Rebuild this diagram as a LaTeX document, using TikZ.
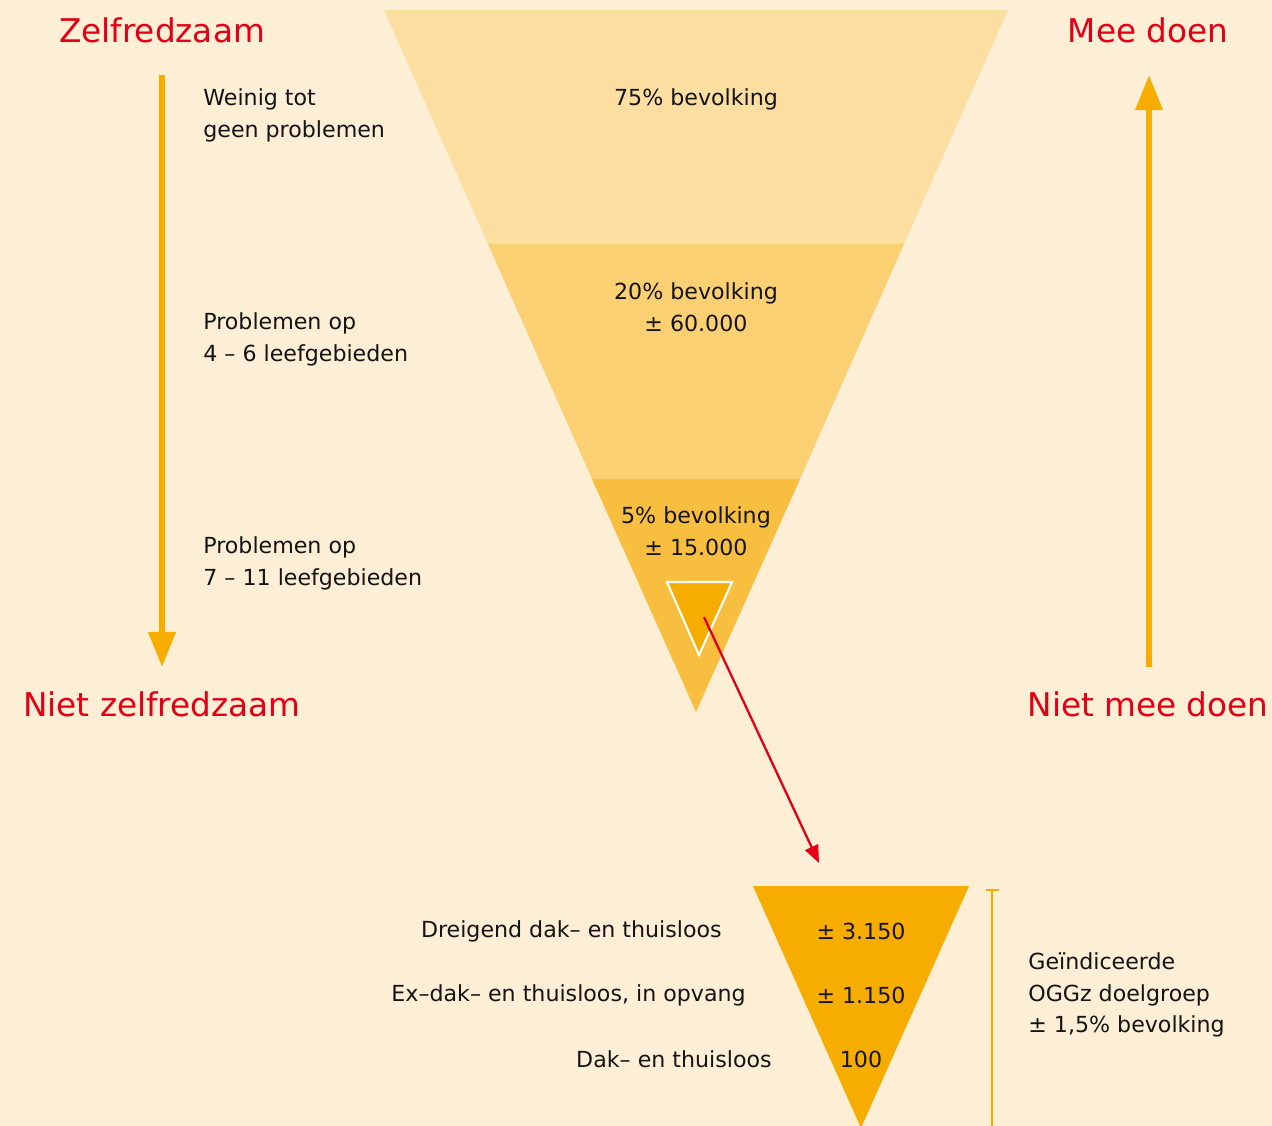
\documentclass[tikz,border=0pt]{standalone}
\usepackage{fontspec}
\setmainfont{DejaVu Sans}
\usetikzlibrary{arrows.meta,positioning}
\definecolor{achter}{RGB}{253,238,214}
\definecolor{laag1}{RGB}{252,222,160}
\definecolor{laag2}{RGB}{250,208,115}
\definecolor{laag3}{RGB}{248,190,64}
\definecolor{oranje}{RGB}{247,173,0}
\definecolor{rood}{RGB}{228,0,20}

\begin{document}
\begin{tikzpicture}[x=0.02cm,y=-0.02cm,
  tekst/.style={font=\fontsize{12.6}{18.1}\selectfont,text=black!92,inner sep=0pt},
  kop/.style={font=\fontsize{18.6}{22}\selectfont,text=rood,inner sep=0pt},
  pijl/.style={oranje,line width=3.4pt,-{Triangle[length=20pt,width=15pt]}}]
  \fill[achter] (0,0) rectangle (1272,1126);
  \useasboundingbox (0,0) rectangle (1272,1126);
  % grote trechter
  \coordinate (A) at (384,10); \coordinate (B) at (1008,10);
  \coordinate (C) at (904,244); \coordinate (D) at (488,244);
  \coordinate (E) at (800,479); \coordinate (F) at (592,479);
  \coordinate (T) at (696,712);
  \fill[laag1] (A)--(B)--(C)--(D)--cycle;
  \fill[laag2] (D)--(C)--(E)--(F)--cycle;
  \fill[laag3] (F)--(E)--(T)--cycle;
  \fill[oranje,draw=white,line width=1.2pt] (667,582)--(732,582)--(699,655)--cycle;
  % kleine trechter
  \fill[oranje] (753,886)--(969,886)--(861,1128)--cycle;
  \coordinate (P) at (704,617); \coordinate (Q) at (819,863);
  \draw[rood,line width=1.3pt,-{Triangle[length=10pt,width=8pt]}] (P)--(Q);
  % pijlen
  \coordinate (L1) at (162,75); \coordinate (L2) at (162,667);
  \coordinate (R1) at (1149,667); \coordinate (R2) at (1149,75);
  \draw[pijl] (L1)--(L2);
  \draw[pijl] (R1)--(R2);
  \draw[oranje,line width=1.3pt] (986,890)--(999,890) (992,890)--(992,1126);
  % koppen
  \node[kop] (zelf) at (162,30) {Zelfredzaam};
  \node[kop] (nzelf) at (162,704) {Niet zelfredzaam};
  \node[kop] (mee) at (1148,30) {Mee doen};
  \node[kop] (nmee) at (1148,704) {Niet mee doen};
  % teksten links
  \node[tekst,anchor=west,align=left] (t1) at (203,115) {Weinig tot\\geen problemen};
  \node[tekst,anchor=west,align=left] (t2) at (203,339) {Problemen op\\4 -- 6 leefgebieden};
  \node[tekst,anchor=west,align=left] (t3) at (203,563) {Problemen op\\7 -- 11 leefgebieden};
  % teksten in trechter
  \node[tekst] (p75) at (696,99) {75\% bevolking};
  \node[tekst,align=center] (p20) at (696,307) {20\% bevolking\\± 60.000};
  \node[tekst,align=center] (p5) at (696,531) {5\% bevolking\\± 15.000};
  % kleine trechter teksten
  \node[tekst] (n1) at (861,931) {± 3.150};
  \node[tekst] (n2) at (861,995) {± 1.150};
  \node[tekst] (n3) at (861,1059) {100};
  \node[tekst,anchor=east] (g1) at (722,931) {Dreigend dak-- en thuisloos};
  \node[tekst,anchor=east] (g2) at (746,995) {Ex--dak-- en thuisloos, in opvang};
  \node[tekst,anchor=east] (g3) at (772,1059) {Dak-- en thuisloos};
  \node[tekst,anchor=west,align=left] (ogg) at (1028,995) {Geïndiceerde\\OGGz doelgroep\\± 1,5\% bevolking};
\end{tikzpicture}
\end{document}
